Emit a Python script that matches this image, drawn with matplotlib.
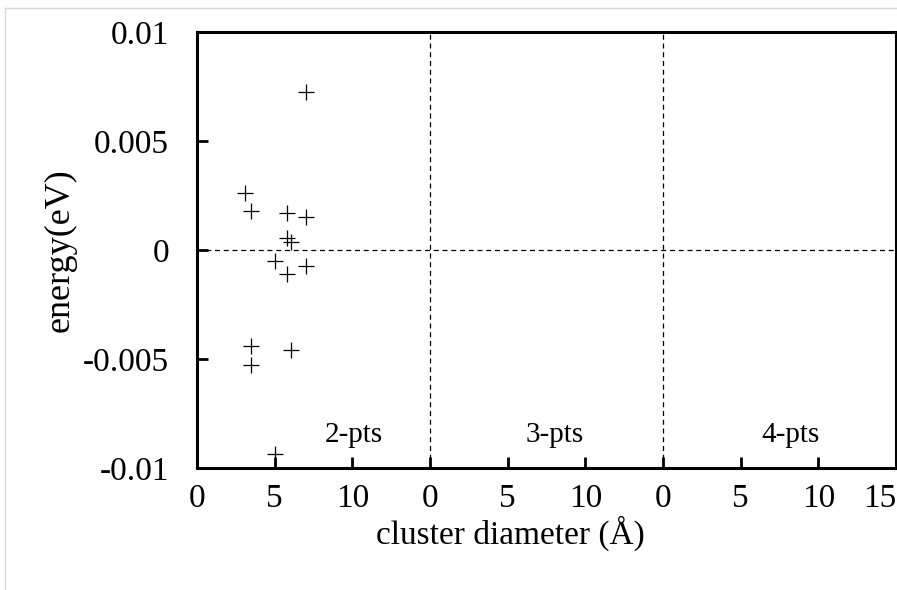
import matplotlib.pyplot as plt
from matplotlib.lines import Line2D

plt.rcParams['font.family'] = ['Liberation Serif', 'DejaVu Serif']

# 2-pts cluster data (diameter in Angstrom, energy in eV)
diameter = [3.07, 3.5, 5.82, 7.0, 7.0, 5.82, 6.08, 5.0, 7.0, 5.82, 3.5, 3.5, 6.08, 5.0]
energy = [0.00261, 0.00180, 0.00168, 0.00152, 0.00723, 0.00056, 0.00038,
          -0.00049, -0.00072, -0.00111, -0.00442, -0.00526, -0.00459, -0.00935]

tick_pos = [0, 5, 10, 15, 20, 25, 30, 35, 40, 45]
tick_labels = ['0', '5', '10', '0', '5', '10', '0', '5', '10', '15']
panel_names = ['2-pts', '3-pts', '4-pts']
panel_text_x = [10.1, 23.0, 38.2]

fig = plt.figure(figsize=(8.97, 5.90), dpi=100)
ax = fig.add_axes([197 / 897, 1 - 468 / 590, (896 - 197) / 897, (468 - 32) / 590])

ax.plot(diameter, energy, linestyle='none', marker='+', color='black',
        markersize=12, markeredgewidth=0.9)

ax.axhline(0, color='black', linestyle='--', linewidth=0.9, dashes=(4, 3))
for xv in [15, 30]:
    ax.axvline(xv, color='black', linestyle='--', linewidth=0.9, dashes=(4, 3))

for name, xt in zip(panel_names, panel_text_x):
    ax.text(xt, -0.0085, name, fontsize=21, ha='center', va='center')

ax.set_xlim(0, 45)
ax.set_ylim(-0.01, 0.01)
ax.set_xticks(tick_pos)
ax.set_xticklabels(tick_labels)
ax.set_yticks([-0.01, -0.005, 0, 0.005, 0.01])
ax.set_yticklabels(['-0.01', '-0.005', '0', '0.005', '0.01'])
ax.tick_params(direction='in', length=8, width=2, labelsize=24)
ax.tick_params(axis='y', pad=20)
ax.tick_params(axis='x', pad=11)
ax.get_xticklabels()[-1].set_horizontalalignment('right')
for sp in ax.spines.values():
    sp.set_linewidth(2.2)

ax.set_xlabel('cluster diameter (Å)', fontsize=24)
ax.xaxis.set_label_coords(0.449, -0.11)
ax.set_ylabel('energy(eV)', fontsize=26)
ax.yaxis.set_label_coords(-0.172, 0.5)

# light frame around the picture
fig.add_artist(Line2D([5 / 897, 1], [1 - 8 / 590, 1 - 8 / 590], color='#d8d8d8', linewidth=1))
fig.add_artist(Line2D([5 / 897, 5 / 897], [0, 1 - 8 / 590], color='#d8d8d8', linewidth=1))

fig.savefig('out.png', dpi=100)
